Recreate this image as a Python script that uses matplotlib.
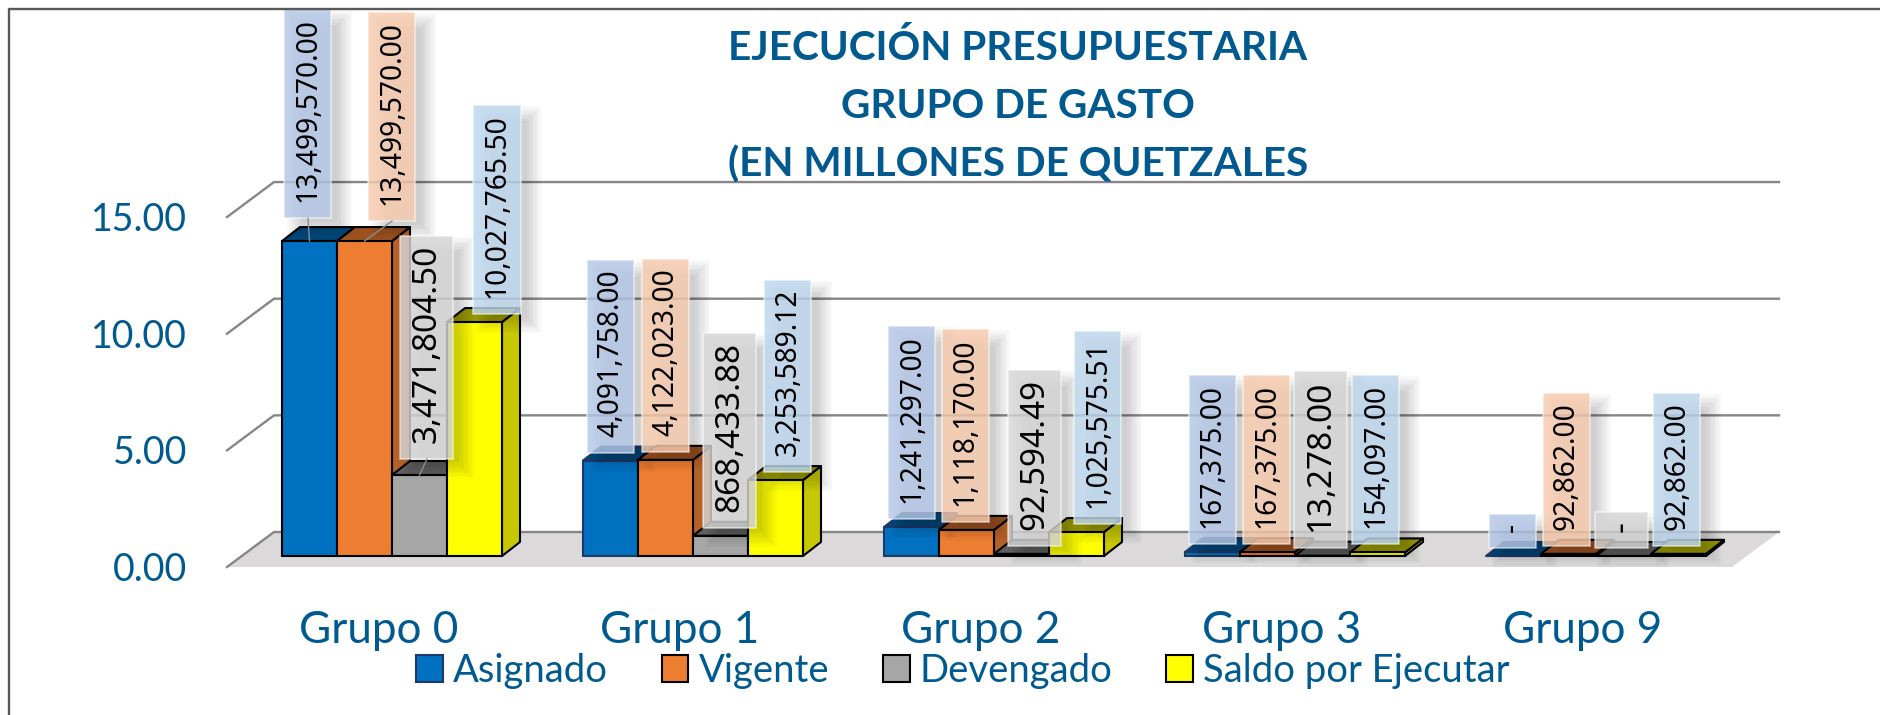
import matplotlib
matplotlib.use('Agg')
import matplotlib.pyplot as plt
from matplotlib.lines import Line2D
from matplotlib.patches import Patch, Polygon, Rectangle
from matplotlib.transforms import IdentityTransform

grupos = ['Grupo 0', 'Grupo 1', 'Grupo 2', 'Grupo 3', 'Grupo 9']
series = ['Asignado', 'Vigente', 'Devengado', 'Saldo por Ejecutar']
asignado = [13499570.00, 4091758.00, 1241297.00, 167375.00, 0]
vigente = [13499570.00, 4122023.00, 1118170.00, 167375.00, 92862.00]
devengado = [3471804.50, 868433.88, 92594.49, 13278.00, 0]
saldo = [10027765.50, 3253589.12, 1025575.51, 154097.00, 92862.00]
ticks = [0, 5, 10, 15]
titulo = ['EJECUCIÓN PRESUPUESTARIA', 'GRUPO DE GASTO', '(EN MILLONES DE QUETZALES']

W, H = 1880, 715
BLUE_TXT = '#005a8f'
# px per group and px per million, front plane of the bars
PX_X = 301.0
PX_Y = 23.33
X0, Y0 = 392.0, 556.0

front = ['#0070c0', '#ed7d31', '#a6a6a6', '#ffff00']
top = ['#00467a', '#9c521f', '#5f5f5f', '#999900']
side = ['#004f88', '#b5622a', '#6f6f6f', '#c8c800']
box_col = ['#b4c7e7', '#f8cbad', '#d6d6d6', '#bdd7ee']

# label offset from the bar (px)
label_dx = [[-1.5, 27.5, 7.5, 22.5], [0.5, 0.5, 9, 12.5], [0.5, -1, 13, 21.5],
            [0, -0.5, -2, -1.5], [-1, -2, -1.5, -1.5]]
label_lift = [[23, 20, 16, 8], [8, 8, 8, 8], [8, 8, 8, 8], [8, 8, 8, 8], [8, 8, 8, 8]]

bar_w = 55 / PX_X
dep_x, dep_y = 18 / PX_X, 14 / PX_Y
wall_x, wall_y = 47 / PX_X, 35 / PX_Y
floor_y = -11 / PX_Y
grid_l = (227 - X0) / PX_X
grid_r = (1732 - X0) / PX_X

fig = plt.figure(figsize=(W / 100, H / 100), dpi=100, facecolor='white')
ax = fig.add_axes([0, 0, 1, 1])
ax.set_xlim(-X0 / PX_X, (W - X0) / PX_X)
ax.set_ylim(-(H - Y0) / PX_Y, Y0 / PX_Y)
ax.axis('off')


def px(x, y):
    return x / W, 1 - y / H


# floor and gridlines
ax.add_patch(Polygon([(grid_l, floor_y), (grid_r, floor_y),
                      (grid_r + wall_x, floor_y + wall_y), (grid_l + wall_x, floor_y + wall_y)],
                     fc='#dbd9da', ec='none', zorder=1))
for t in ticks:
    g = floor_y + t
    ax.plot([grid_l, grid_l + wall_x, grid_r + wall_x], [g, g + wall_y, g + wall_y],
            color='#868686', lw=1.7, zorder=2, solid_joinstyle='miter')
    ax.text(-205 / PX_X, g - 14 / PX_Y, f'{t:.2f}', color=BLUE_TXT, fontsize=27,
            family='Lato', ha='right', va='baseline', zorder=8)

# 3d bars, left to right so the next bar covers the side of the last
valores = [asignado, vigente, devengado, saldo]
for i in range(len(grupos)):
    for j in range(4):
        v = valores[j][i] / 1e6
        x = i + (j - 2) * bar_w
        ec = '#1f3864' if (j == 0 and i > 0) else 'black'
        ax.add_patch(Polygon([(x + bar_w, 0), (x + bar_w + dep_x, dep_y),
                              (x + bar_w + dep_x, v + dep_y), (x + bar_w, v)],
                             fc=side[j], ec=ec, lw=1.5, zorder=3, joinstyle='round'))
        ax.add_patch(Polygon([(x, v), (x + bar_w, v), (x + bar_w + dep_x, v + dep_y), (x + dep_x, v + dep_y)],
                             fc=top[j], ec=ec, lw=1.5, zorder=3, joinstyle='round'))
        ax.bar(x, v, width=bar_w, align='edge', color=front[j], edgecolor=ec, lw=1.5, zorder=3)

# data labels
labels = []
for i in range(len(grupos)):
    for j in range(4):
        raw = valores[j][i]
        v = raw / 1e6
        xc = i + (j - 1.5) * bar_w
        txt = f'{raw:,.2f}' if raw > 0 else '-'
        fs = 24 if j == 2 else 20.3
        dx, lift = label_dx[i][j], label_lift[i][j]
        an = ax.annotate(txt, xy=(xc, v), xytext=((dx) * 0.72, (lift + 16) * 0.72),
                         textcoords='offset points', rotation=90, ha='center', va='bottom',
                         fontsize=fs, family='Noto Sans', color='black', zorder=12)
        labels.append((an, j))
        if lift > 10:
            ax.plot([xc, xc + dx / PX_X], [v, v + lift / PX_Y], color='#8c8c8c', lw=1, zorder=11)

fig.canvas.draw()
rend = fig.canvas.get_renderer()
for an, j in labels:
    bb = an.get_window_extent(rend)
    cx = (bb.x0 + bb.x1) / 2
    w = 53 if j == 2 else 47
    y0, y1 = bb.y0 - 16, bb.y1 + 9
    # soft shadow
    for k in range(7):
        g = 9 - k * 2.5
        ax.add_patch(Rectangle((cx - w / 2 + 12 - g, y0 - 10 - g), w + 2 * g, y1 - y0 + 2 * g,
                               transform=IdentityTransform(), fc='black', ec='none',
                               alpha=0.028, zorder=9))
    ax.add_patch(Rectangle((cx - w / 2, y0), w, y1 - y0, transform=IdentityTransform(),
                           fc=box_col[j], ec='none', alpha=0.82, zorder=10))
    ax.add_patch(Rectangle((cx - w / 2, y0), w, y1 - y0, transform=IdentityTransform(),
                           fc='none', ec='white', lw=1.2, alpha=0.55, zorder=10))

# title, categories
for line, yb in zip(titulo, [60, 118, 177]):
    fx, fy = px(1018, yb)
    fig.text(fx, fy, line, color=BLUE_TXT, fontsize=29.2, family='Lato', weight='bold',
             ha='center', va='baseline', zorder=13)
for i, g in enumerate(grupos):
    fx, fy = px(X0 + i * PX_X - 13, 643)
    fig.text(fx, fy, g, color=BLUE_TXT, fontsize=31.7, family='Lato', ha='center', va='baseline')

handles = [Patch(fc=front[j], ec='#1f3864' if j == 0 else 'black', lw=1.5) for j in range(4)]
fig.legend(handles, series, loc='center', bbox_to_anchor=px(963, 671), ncol=4, frameon=False,
           prop={'family': 'Lato', 'size': 27.5}, labelcolor=BLUE_TXT, handlelength=0.7,
           handleheight=0.7, handletextpad=0.27, columnspacing=1.4, borderpad=0, borderaxespad=0)

# frame, only left and top are visible in the picture
fig.add_artist(Line2D([9 / W, 9 / W, 1], [0, 1 - 9 / H, 1 - 9 / H], color='#595959', lw=1.7))

fig.savefig('out.png', dpi=100)
